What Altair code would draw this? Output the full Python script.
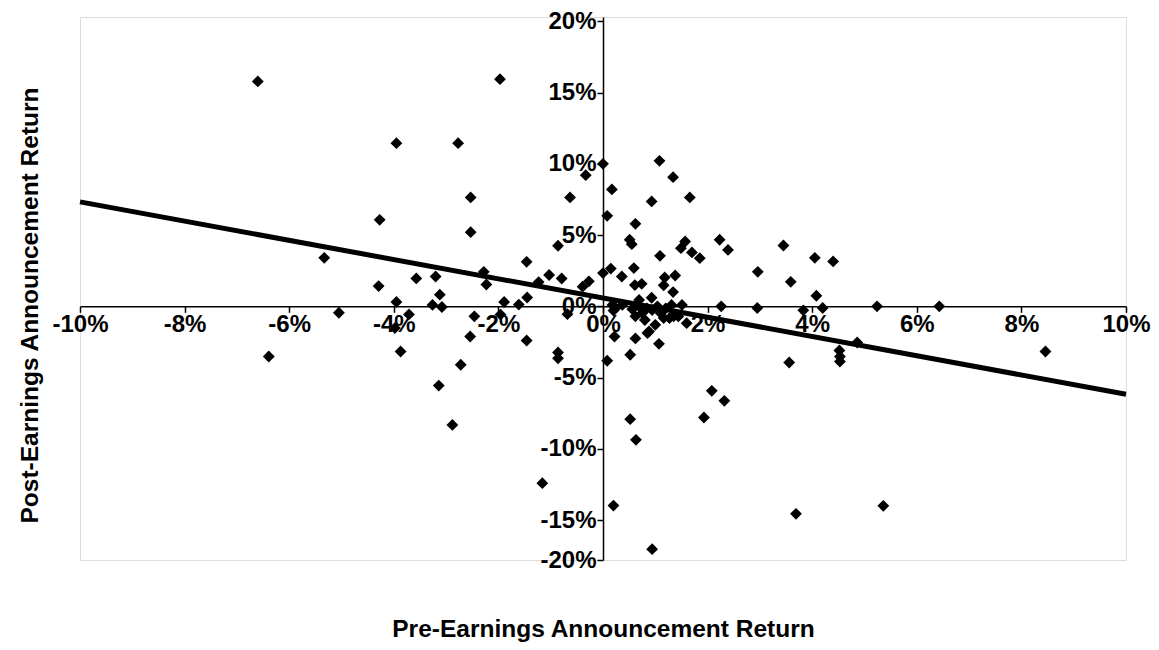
import altair as alt
import pandas as pd

# Pre-earnings announcement return (%) and post-earnings announcement return (%)
pre_ret = [
    -6.60, -1.97, -3.95, -2.77, 0.00, -0.33, 0.17, -2.53, -0.63, 0.08,
    -4.27, -2.53, -0.86, -5.33, -1.46, -2.28, 0.15, 0.00, -1.03, -0.79,
    -3.57, -3.20, -4.29, -2.23, -1.23, -0.27, -0.39, -3.12, -1.45, -3.95,
    -3.26, -3.08, -1.89, -1.61, -5.05, -3.71, -2.46, -1.96, -0.68, 0.20,
    -6.39, -3.98, -3.87, -2.54, -1.46, -2.72, -3.14, -2.88, -0.86, -0.86,
    -1.16, 0.20, 0.08,
    1.08, 1.34, 0.93, 1.66, 0.62, 0.51, 0.55, 1.57, 1.49, 1.70,
    1.85, 1.09, 2.23, 2.39, 3.45, 4.05, 4.40, 2.96, 3.59, 0.59,
    0.36, 1.18, 1.38, 0.61, 0.74, 1.16, 1.34, 0.93, 0.69, 4.08,
    2.26, 2.95, 3.83, 4.20, 5.24, 6.43, 1.51, 8.46, 4.86, 4.52,
    4.53, 4.53, 3.56, 1.07, 0.62, 0.52, 0.22, 2.08, 2.32, 1.93,
    0.52, 0.63, 3.69, 5.36, 0.94, 1.60, 1.35, 0.85, 1.00, 0.88,
    1.44, 1.27, 0.24, 0.37, 0.56, 0.69, 0.75, 0.84, 0.94, 1.04,
    1.10, 1.20, 1.31, 0.80, 1.16, 0.62, 0.18,
]
post_ret = [
    15.78, 15.94, 11.45, 11.45, 10.00, 9.20, 8.20, 7.64, 7.64, 6.35,
    6.07, 5.20, 4.25, 3.40, 3.12, 2.42, 2.65, 2.33, 2.20, 1.95,
    1.96, 2.09, 1.42, 1.53, 1.70, 1.75, 1.38, 0.82, 0.62, 0.30,
    0.10, -0.05, 0.30, 0.12, -0.45, -0.57, -0.70, -0.58, -0.55, -0.30,
    -3.52, -1.53, -3.17, -2.12, -2.40, -4.10, -5.56, -8.32, -3.24, -3.65,
    -12.41, -13.98, -3.82,
    10.21, 9.06, 7.36, 7.64, 5.79, 4.67, 4.36, 4.55, 4.08, 3.78,
    3.38, 3.54, 4.67, 3.96, 4.27, 3.40, 3.15, 2.42, 1.72, 2.68,
    2.09, 2.02, 2.16, 1.49, 1.58, 1.47, 1.00, 0.60, 0.45, 0.74,
    0.00, -0.12, -0.28, -0.12, 0.00, 0.00, 0.10, -3.17, -2.54, -3.10,
    -3.52, -3.87, -3.94, -2.63, -2.25, -3.40, -2.12, -5.93, -6.63, -7.80,
    -7.92, -9.37, -14.56, -14.00, -17.04, -1.18, -0.70, -1.88, -1.30, -1.77,
    -0.71, -0.83, -0.13, 0.10, -0.20, 0.00, -0.47, -0.14, -0.26, 0.00,
    -0.47, -0.14, 0.10, -0.96, -0.82, -0.70, 0.10,
]

# Fitted trend line, read at the two ends of the x range
trend_pre = [-10, 10]
trend_post = [7.33, -6.17]

x_ticks = [-10, -8, -6, -4, -2, 0, 2, 4, 6, 8, 10]
y_ticks = [-17.8, -15, -10, -5, 0, 5, 10, 15, 20]

pts = pd.DataFrame({"pre": pre_ret, "post": post_ret})
trend = pd.DataFrame({"pre": trend_pre, "post": trend_post})

W, H = 1046, 543
PAD_L, PAD_T = 72, 9
y_dom = [-17.8, 20.3]
x_dom = [-10, 10]
zero_y_from_bottom = H * (0 - y_dom[0]) / (y_dom[1] - y_dom[0])
zero_x_from_left = W * (0 - x_dom[0]) / (x_dom[1] - x_dom[0])

FONT = "Liberation Sans"

x_axis = alt.Axis(
    values=x_ticks,
    labelExpr="datum.value + '%'",
    offset=-zero_y_from_bottom,
    grid=False,
    domainColor="black", domainWidth=1.5,
    tickColor="black", tickWidth=1.5, tickSize=6,
    labelFont=FONT, labelFontWeight="bold", labelFontSize=24, labelColor="black",
    labelPadding=0, labelFlush=False, labelOverlap=False,
    title="Pre-Earnings Announcement Return",
    titleFont=FONT, titleFontWeight="bold", titleFontSize=24.5, titleColor="black",
    titleBaseline="middle", titleY=323, titleX=W / 2, titleAlign="center",
)
y_axis = alt.Axis(
    values=y_ticks,
    labelExpr="datum.value < -17 ? '-20%' : datum.value + '%'",
    offset=-zero_x_from_left,
    grid=False,
    domainColor="black", domainWidth=1.5,
    tickColor="black", tickWidth=1.5, tickSize=6,
    labelFont=FONT, labelFontWeight="bold", labelFontSize=24, labelColor="black",
    labelPadding=1, labelFlush=False, labelOverlap=False,
    title="Post-Earnings Announcement Return",
    titleFont=FONT, titleFontWeight="bold", titleFontSize=24.5, titleColor="black",
    titleAngle=-90, titleAlign="center", titleBaseline="middle",
    titleX=30 - (8 + PAD_L + zero_x_from_left), titleY=288,
)

x_scale = alt.Scale(domain=x_dom, nice=False, zero=False)
y_scale = alt.Scale(domain=y_dom, nice=False, zero=False)

points = alt.Chart(pts).mark_point(
    shape="diamond", filled=True, color="black", size=140, opacity=1
).encode(
    x=alt.X("pre:Q", scale=x_scale, axis=x_axis),
    y=alt.Y("post:Q", scale=y_scale, axis=y_axis),
)

line = alt.Chart(trend).mark_line(color="black", strokeWidth=5).encode(
    x=alt.X("pre:Q", scale=x_scale),
    y=alt.Y("post:Q", scale=y_scale),
)

chart = (
    alt.layer(points, line)
    .properties(
        width=W, height=H,
        autosize=alt.AutoSizeParams(type="none"),
        padding={"left": PAD_L, "top": PAD_T, "right": 25, "bottom": 82},
    )
    .configure_view(stroke="#777", strokeWidth=1, strokeDash=[2, 2])
    .configure(background="white")
)

chart.save("out.html", embed_options={"renderer": "svg", "actions": False})
